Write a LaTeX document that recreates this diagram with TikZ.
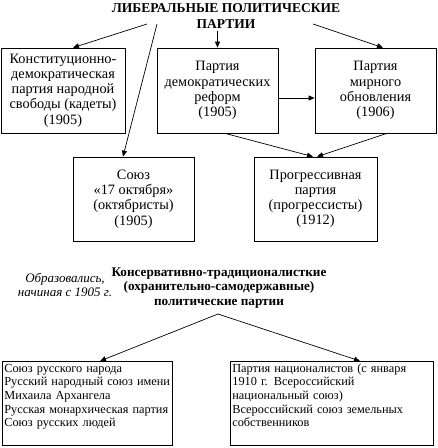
\documentclass[tikz,border=0pt]{standalone}
\usepackage{fontspec}
\setmainfont{Liberation Serif}
\usetikzlibrary{arrows.meta,positioning,calc}

\begin{document}
\begin{tikzpicture}[x=1pt,y=-1pt,line width=0.7pt,
  b/.style={draw,fill=white,align=center,minimum height=85pt,inner sep=2pt,font=\fontsize{14.3}{15.2}\selectfont},
  lb/.style={draw,fill=white,anchor=north west,align=left,inner xsep=2pt,inner ysep=2pt,text height=9pt,text depth=71pt,font=\fontsize{12.3}{13.6}\selectfont},
  a/.style={-{Triangle[length=6pt,width=5pt]}}]
  \useasboundingbox (0,0) rectangle (438,448);

  \node[font=\bfseries\fontsize{13.5}{16}\selectfont,align=center] (lib) at (226,16) {ЛИБЕРАЛЬНЫЕ ПОЛИТИЧЕСКИЕ\\ПАРТИИ};
  \node[b,minimum width=124pt] (kad) at (63,90.5) {Конституционно-\\демократическая\\партия народной\\свободы (кадеты)\\(1905)};
  \node[b,minimum width=121pt] (dem) at (217.5,90.5) {Партия\\демократических\\реформ\\(1905)};
  \node[b,minimum width=121pt] (mir) at (375.5,90.5) {Партия\\мирного\\обновления\\(1906)};
  \node[b,minimum width=121pt,minimum height=84pt] (okt) at (133.5,199) {Союз\\«17 октября»\\(октябристы)\\(1905)};
  \node[b,minimum width=123pt,minimum height=84pt] (prog) at (315.5,199) {Прогрессивная\\партия\\(прогрессисты)\\(1912)};

  \coordinate (l1) at (147,24);
  \coordinate (l2) at (157,24);
  \coordinate (l3) at (217.5,31);
  \coordinate (l4) at (313,24);
  \draw[a] (l1) -- (73,0 |- kad.north);
  \draw[a] (l2) -- (123,0 |- okt.north);
  \draw[a] (l3) -- (dem.north);
  \draw[a] (l4) -- (383,0 |- mir.north);
  \draw[a] (dem.east |- 0,98) -- (mir.west |- 0,98);
  \draw[a] (225,0 |- dem.south) -- (313,0 |- prog.north);
  \draw[a] (387,0 |- mir.south) -- (317,0 |- prog.north);

  % консервативные
  \node[font=\bfseries\fontsize{13.2}{14.5}\selectfont,align=center] (kons) at (219,288) {Консервативно-традиционалисткие\\(охранительно-самодержавные)\\политические партии};
  \node[font=\itshape\fontsize{13}{14}\selectfont,align=center] (obr) at (65,285) {Образовались,\\начиная с 1905 г.};
  \coordinate (pk) at (218,314);
  \node[lb,text width=166pt] (rus) at (2,361) {Союз русского народа\\Русский народный союз имени\\Михаила Архангела\\Русская монархическая партия\\Союз русских людей};
  \node[lb,text width=199pt] (nac) at (230,361) {Партия националистов (с января\\1910 г. Всероссийский\\национальный союз)\\Всероссийский союз земельных\\собственников};
  \draw[a] (pk) -- (100,0 |- rus.north);
  \draw[a] (pk) -- (360,0 |- nac.north);
\end{tikzpicture}
\end{document}
